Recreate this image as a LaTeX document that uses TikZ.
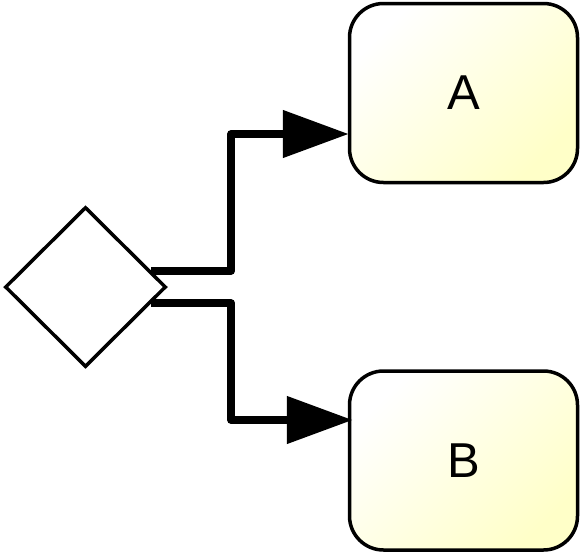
\documentclass[tikz,border=0pt]{standalone}
\usepackage{fontspec}
\setmainfont{Liberation Sans}
\usetikzlibrary{shapes.geometric,arrows.meta,calc}
\definecolor{boxyellow}{HTML}{FFFFC8}
\tikzset{
  gate/.style={draw=black, line width=3.5pt, shape=diamond, inner sep=0pt, fill=white,
    minimum width=161pt, minimum height=160pt},
  task/.style={draw=black, line width=3.5pt, rounded corners=34pt, inner sep=0pt,
    minimum width=228pt, minimum height=179pt, top color=white, bottom color=boxyellow,
    shading angle=45, font=\fontsize{49}{49}\selectfont},
  conn/.style={line width=8pt, line join=round, -{Triangle[length=66pt,width=46pt]}}
}
\begin{document}
\begin{tikzpicture}[x=1pt,y=-1pt]
\useasboundingbox (0,0) rectangle (581,555);
\node[gate] (d) at (85.5,287) {};
\node[task] (a) at (463.5,93) {A};
\node[task] (b) at (463.5,460.5) {B};
\draw[conn] (d.14) -- ++(80,0) |- ($(a.west)+(1,41)$);
\draw[conn] (d.-14) -- ++(80,0) |- ($(b.west)+(5,-40.5)$);
\end{tikzpicture}
\end{document}
